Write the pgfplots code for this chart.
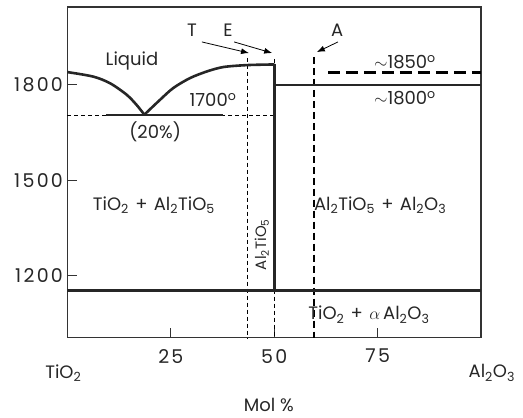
\documentclass[border=0pt]{standalone}
\usepackage{pgfplots}
\pgfplotsset{compat=1.18}
\usepackage{fontspec}
\setmainfont{Poppins}[Numbers=Monospaced]
\usetikzlibrary{arrows.meta}
\tikzset{lbl/.style={font=\fontsize{18}{20}\selectfont, text=black!85}}
\newcommand{\plus}{\hspace{0.35em}+\hspace{0.35em}}
\begin{document}
\begin{tikzpicture}
\begin{axis}[
  scale only axis, width=414pt, height=331pt,
  xmin=0, xmax=100, ymin=1004, ymax=2045,
  xtick={25,50,75}, ytick={1200,1500,1800},
  tick pos=left, tick align=inside, major tick length=10pt,
  /pgf/number format/assume math mode=true,
  /pgf/number format/1000 sep={},
  ticklabel style={font=\fontsize{19}{21}\selectfont\addfontfeatures{LetterSpace=12}, text=black!85},
  xticklabel style={yshift=-8pt},
  yticklabel style={xshift=-1pt},
  axis line style={black!80, line width=1.4pt},
  every tick/.style={black!80, line width=1pt},
  clip=false,
]
% thin dashed lines
\addplot[black, line width=0.9pt, dash pattern=on 4pt off 3pt] coordinates {(0,1705) (50,1705)};
\addplot[black, line width=0.9pt, dash pattern=on 4pt off 3pt] coordinates {(43.5,1885) (43.5,1004)};
\addplot[black, line width=0.9pt, dash pattern=on 4pt off 3pt] coordinates {(50,1882) (50,1004)};
% thick dashed
\addplot[black, line width=2.2pt, dash pattern=on 7pt off 4pt] coordinates {(59.6,1888) (59.6,1004)};
\addplot[black, line width=2.6pt, dash pattern=on 12pt off 6pt] coordinates {(63,1839) (100,1839)};
% liquidus curves
\addplot[black!85, line width=2.6pt, smooth] coordinates {(0,1840) (6.2,1826) (10.3,1805) (14.3,1769) (16.7,1737) (18.6,1706)};
\addplot[black!85, line width=2.6pt, smooth] coordinates {(18.6,1706) (22.4,1753) (25.6,1790) (29.6,1821) (33.7,1842) (37.7,1856) (43.3,1862) (49.4,1864) (50,1864)};
% eutectic line
\addplot[black!85, line width=2.2pt] coordinates {(9.3,1705) (37.6,1705)};
% compound vertical
\addplot[black!85, line width=2.6pt] coordinates {(50,1864) (50,1152)};
% 1800 line
\addplot[black!85, line width=2.4pt] coordinates {(50,1800) (100,1800)};
% bottom line
\addplot[black!85, line width=2.6pt] coordinates {(0,1152) (100,1152)};
% arrows
\addplot[black, line width=0.8pt, -{Latex[length=8pt,width=6pt]}] coordinates {(32.5,1935) (43.9,1900)};
\addplot[black, line width=0.8pt, -{Latex[length=8pt,width=6pt]}] coordinates {(40.3,1935) (49.5,1900)};
\addplot[black, line width=0.8pt, -{Latex[length=8pt,width=6pt]}] coordinates {(65.4,1935) (60.3,1903)};
% labels
\node[lbl] at (axis cs:30.1,1973) {T};
\node[lbl] at (axis cs:38.8,1973) {E};
\node[lbl] at (axis cs:65.2,1973) {A};
\node[lbl] at (axis cs:15.6,1875) {Liquid};
\node[lbl] at (axis cs:35.2,1753) {1700\textsuperscript{o}};
\node[lbl] at (axis cs:21.2,1652) {(20\%)};
\node[lbl] at (axis cs:81.6,1872) {$\sim$1850\textsuperscript{o}};
\node[lbl] at (axis cs:81.6,1759) {$\sim$1800\textsuperscript{o}};
\node[lbl] at (axis cs:20.9,1422) {TiO\textsubscript{2}\plus Al\textsubscript{2}TiO\textsubscript{5}};
\node[lbl] at (axis cs:75.6,1422) {Al\textsubscript{2}TiO\textsubscript{5}\plus Al\textsubscript{2}O\textsubscript{3}};
\node[lbl, font=\fontsize{15}{17}\selectfont, rotate=90] at (axis cs:47.0,1297) {Al\textsubscript{2}TiO\textsubscript{5}};
\node[lbl] at (axis cs:72.9,1076) {TiO\textsubscript{2}\plus $\alpha$\,Al\textsubscript{2}O\textsubscript{3}};
\node[lbl] at (axis cs:-1,893) {TiO\textsubscript{2}};
\node[lbl] at (axis cs:102.6,893) {Al\textsubscript{2}O\textsubscript{3}};
\node[lbl] at (axis cs:48.7,792) {Mol \%};
\end{axis}
\path ([xshift=-67.5pt,yshift=-80pt]current axis.south west) rectangle ([xshift=42pt,yshift=7pt]current axis.north east);
\end{tikzpicture}
\end{document}
